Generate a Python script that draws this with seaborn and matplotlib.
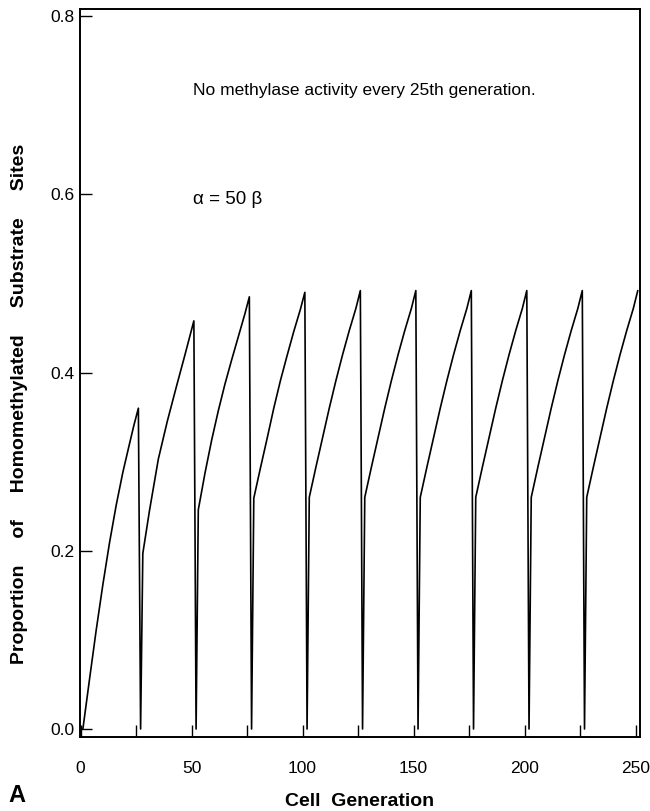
import matplotlib
matplotlib.use("Agg")
import matplotlib.pyplot as plt
import seaborn as sns
import pandas as pd

# ---- data (generation, proportion of homomethylated sites) ----
generation = [
    1, 4, 7, 10, 13, 16, 19, 22, 24, 26, 27,
    28, 31, 35, 39, 43, 47, 51, 52,
    53, 56, 59, 62, 65, 68, 71, 74, 76, 77,
    78, 81, 84, 87, 90, 93, 96, 99, 101, 102,
    103, 106, 109, 112, 115, 118, 121, 124, 126, 127,
    128, 131, 134, 137, 140, 143, 146, 149, 151, 152,
    153, 156, 159, 162, 165, 168, 171, 174, 176, 177,
    178, 181, 184, 187, 190, 193, 196, 199, 201, 202,
    203, 206, 209, 212, 215, 218, 221, 224, 226, 227,
    228, 231, 234, 237, 240, 243, 246, 249, 251,
]
proportion = [
    0.000, 0.056, 0.111, 0.162, 0.209, 0.251, 0.288, 0.320, 0.341, 0.360, 0.000,
    0.197, 0.245, 0.303, 0.345, 0.383, 0.420, 0.458, 0.000,
    0.246, 0.287, 0.324, 0.357, 0.387, 0.414, 0.440, 0.466, 0.485, 0.000,
    0.259, 0.293, 0.326, 0.360, 0.391, 0.419, 0.446, 0.471, 0.490, 0.000,
    0.260, 0.294, 0.327, 0.360, 0.391, 0.420, 0.447, 0.472, 0.492, 0.000,
    0.260, 0.294, 0.327, 0.360, 0.391, 0.420, 0.447, 0.472, 0.492, 0.000,
    0.260, 0.294, 0.327, 0.360, 0.391, 0.420, 0.447, 0.472, 0.492, 0.000,
    0.260, 0.294, 0.327, 0.360, 0.391, 0.420, 0.447, 0.472, 0.492, 0.000,
    0.260, 0.294, 0.327, 0.360, 0.391, 0.420, 0.447, 0.472, 0.492, 0.000,
    0.260, 0.294, 0.327, 0.360, 0.391, 0.420, 0.447, 0.472, 0.492,
]
x_ticks = [0, 25, 50, 75, 100, 125, 150, 175, 200, 225, 250]
x_ticklabels = ["0", "", "50", "", "100", "", "150", "", "200", "", "250"]
y_ticks = [0.0, 0.2, 0.4, 0.6, 0.8]
y_ticklabels = ["0.0", "0.2", "0.4", "0.6", "0.8"]

df = pd.DataFrame({"gen": generation, "prop": proportion})

sns.set_style("ticks", {"text.color": "black", "axes.labelcolor": "black",
                        "xtick.color": "black", "ytick.color": "black",
                        "axes.edgecolor": "black"})
plt.rcParams["font.family"] = ["Liberation Sans", "DejaVu Sans"]

fig = plt.figure(figsize=(6.5, 8.11), dpi=100)
ax = fig.add_axes([80 / 650, 1 - 737 / 811, 560 / 650, 728 / 811])

sns.lineplot(data=df, x="gen", y="prop", sort=False, estimator=None,
             color="black", linewidth=1.2, ax=ax)

ax.set_xlim(-0.3, 252)
ax.set_ylim(-0.009, 0.808)

ax.set_xticks(x_ticks)
ax.set_xticklabels(x_ticklabels, fontsize=12.5)
ax.set_yticks(y_ticks)
ax.set_yticklabels(y_ticklabels, fontsize=12.5)
ax.tick_params(axis="x", direction="in", length=8.5, width=1.0, pad=17, color="black")
ax.tick_params(axis="y", direction="in", length=8.5, width=1.0, pad=4, color="black")

for s in ax.spines.values():
    s.set_visible(True)
    s.set_linewidth(1.4)
    s.set_color("black")

ax.set_xlabel("Cell  Generation", fontsize=14, fontweight="bold")
ax.xaxis.set_label_coords(0.5, -(801 - 737) / 728)
ax.xaxis.label.set_verticalalignment("center")
ax.set_ylabel("Proportion     of     Homomethylated     Substrate     Sites",
              fontsize=14, fontweight="bold")
ax.yaxis.set_label_coords(-(80 - 20) / 560, (737 - 404) / 728)
ax.yaxis.label.set_verticalalignment("center")

fig.text(193 / 650, 1 - 90 / 811, "No methylase activity every 25th generation.",
         fontsize=12.5, va="center", ha="left")
fig.text(193 / 650, 1 - 200 / 811, "α = 50 β", fontsize=13.5, va="center", ha="left")
fig.text(8 / 650, 1 - 796 / 811, "A", fontsize=17, fontweight="bold", va="center", ha="left")

fig.savefig("out.png", dpi=100)
